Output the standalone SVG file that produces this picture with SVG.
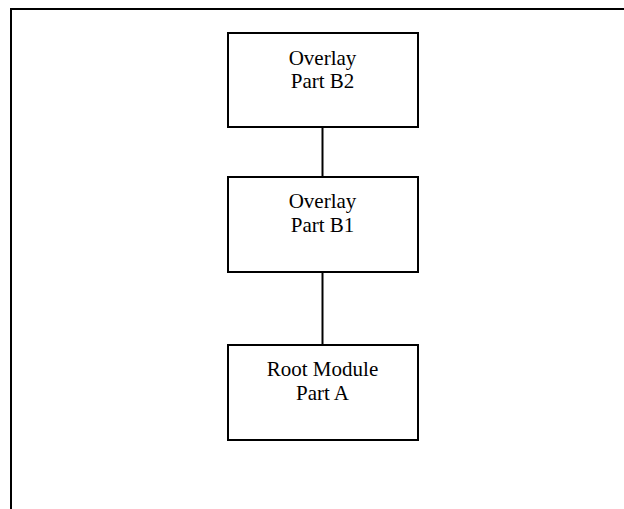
<svg xmlns="http://www.w3.org/2000/svg" width="624" height="509" viewBox="0 0 624 509">
<style>
.box{fill:#fff;stroke:#000;stroke-width:2}
.lbl{font-family:"Liberation Serif","Times New Roman",serif;font-size:21px;fill:#000;text-anchor:middle}
.edge{stroke:#000;stroke-width:2;fill:none}
.frame{stroke:#000;stroke-width:2;fill:none}
</style>
<rect width="624" height="509" fill="#fff"/>
<path class="frame" d="M11 509 V9 H624"/>
<g id="connectors">
<line class="edge" x1="322.5" y1="127" x2="322.5" y2="177"/>
<line class="edge" x1="322.5" y1="272" x2="322.5" y2="345"/>
</g>
<g id="b2">
<rect class="box" x="228" y="33" width="190" height="94"/>
<text class="lbl" x="322.5" y="65">Overlay</text>
<text class="lbl" x="322.5" y="88">Part B2</text>
</g>
<g id="b1">
<rect class="box" x="228" y="177" width="190" height="95"/>
<text class="lbl" x="322.5" y="208">Overlay</text>
<text class="lbl" x="322.5" y="232">Part B1</text>
</g>
<g id="a">
<rect class="box" x="228" y="345" width="190" height="95"/>
<text class="lbl" x="322.5" y="376">Root Module</text>
<text class="lbl" x="322.5" y="400">Part A</text>
</g>
</svg>
